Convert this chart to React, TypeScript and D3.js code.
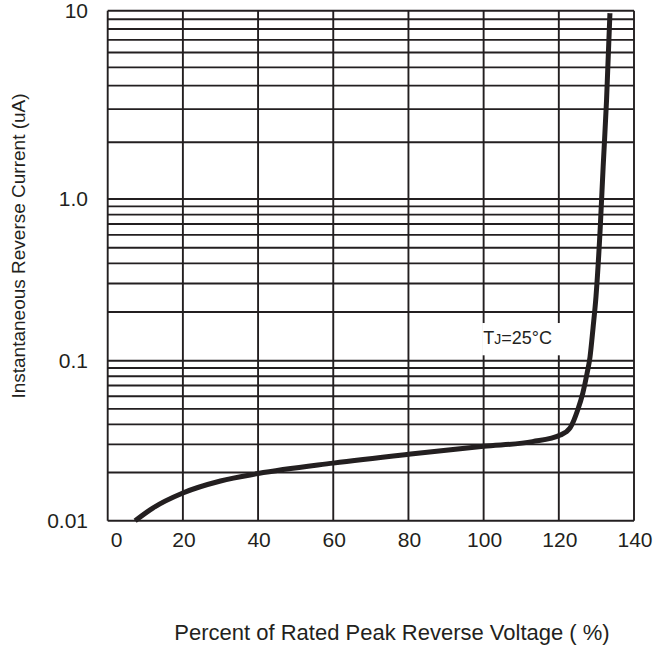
import React, {useEffect, useRef} from 'react'
import * as d3 from 'd3'

// percent of rated peak reverse voltage
const voltagePct = [7.3, 12, 20, 30, 40, 60, 80, 100, 113, 120.4, 123, 125, 126.4, 127.5, 128.3, 129.1, 129.9, 131, 131.8, 132.7, 133.6]
// instantaneous reverse current (uA)
const currentUA = [0.01, 0.012, 0.0149, 0.0177, 0.0197, 0.0229, 0.026, 0.0292, 0.0312, 0.0343, 0.038, 0.049, 0.063, 0.083, 0.1054, 0.159, 0.251, 0.652, 1.49, 3.36, 9.7]

const xTicks = [0, 20, 40, 60, 80, 100, 120, 140]
const yTickValues = [0.01, 0.1, 1, 10]
const yTickLabels = ['0.01', '0.1', '1.0', '10']

const W = 670
const H = 662
const INK = '#231f20'
const FONT = '"Liberation Sans", Arial, sans-serif'

export default function App() {
  const ref = useRef<SVGSVGElement>(null)

  useEffect(() => {
    const svg = d3.select(ref.current)
    svg.selectAll('*').remove()

    const x = d3.scaleLinear().domain([0, 140]).range([107.7, 634])
    // the printed grid has a taller top decade, so map decade by decade
    const y = d3.scaleLog().domain([0.01, 0.1, 1, 10]).range([520.7, 360.7, 199, 10.7])

    const grid = svg.append('g')

    // horizontal log grid: 1..9 in every decade
    const hLines: number[] = []
    for (const d of [0.01, 0.1, 1]) {
      for (let k = 1; k <= 9; k++) hLines.push(d * k)
    }
    hLines.push(10)

    grid.selectAll('line.h')
      .data(hLines)
      .enter()
      .append('line')
      .attr('x1', x(0))
      .attr('x2', x(140))
      .attr('y1', (d) => y(d))
      .attr('y2', (d) => y(d))
      .attr('stroke', INK)
      .attr('stroke-width', 1.9)

    grid.selectAll('line.v')
      .data(xTicks)
      .enter()
      .append('line')
      .attr('x1', (d) => x(d))
      .attr('x2', (d) => x(d))
      .attr('y1', y(10))
      .attr('y2', y(0.01))
      .attr('stroke', INK)
      .attr('stroke-width', 1.9)

    // white box behind the annotation
    svg.append('rect')
      .attr('x', x(99.6))
      .attr('y', y(0.171))
      .attr('width', x(120.6) - x(99.6))
      .attr('height', y(0.108) - y(0.171))
      .attr('fill', '#fff')

    const t = svg.append('text')
      .attr('x', x(99.9))
      .attr('y', y(0.127))
      .attr('font-family', FONT)
      .attr('font-size', 18)
      .attr('fill', INK)
    t.append('tspan').text('T')
    t.append('tspan').attr('font-size', 14).text('J')
    t.append('tspan').text('=25°C')

    // curve
    const line = d3.line<number>()
      .x((d, i) => x(voltagePct[i]))
      .y((d) => y(d))
      .curve(d3.curveMonotoneX)

    svg.append('path')
      .datum(currentUA)
      .attr('d', line)
      .attr('fill', 'none')
      .attr('stroke', INK)
      .attr('stroke-width', 5)
      .attr('stroke-linecap', 'butt')

    // x tick labels
    svg.append('g')
      .selectAll('text')
      .data(xTicks)
      .enter()
      .append('text')
      .attr('x', (d) => x(d) + (d === 0 ? 9 : 1))
      .attr('y', 547)
      .attr('text-anchor', 'middle')
      .attr('font-family', FONT)
      .attr('font-size', 21)
      .attr('fill', INK)
      .text((d) => d)

    // y tick labels
    svg.append('g')
      .selectAll('text')
      .data(yTickValues)
      .enter()
      .append('text')
      .attr('x', 88)
      .attr('y', (d) => y(d) + 7)
      .attr('text-anchor', 'end')
      .attr('font-family', FONT)
      .attr('font-size', 21)
      .attr('fill', INK)
      .text((d, i) => yTickLabels[i])

    svg.append('text')
      .attr('transform', `translate(25, 246) rotate(-90)`)
      .attr('text-anchor', 'middle')
      .attr('font-family', FONT)
      .attr('font-size', 19)
      .attr('fill', INK)
      .text('Instantaneous Reverse Current (uA)')

    svg.append('text')
      .attr('x', 392)
      .attr('y', 640)
      .attr('text-anchor', 'middle')
      .attr('font-family', FONT)
      .attr('font-size', 22)
      .attr('fill', INK)
      .text('Percent of Rated Peak Reverse Voltage ( %)')
  }, [])

  return (
    <svg
      ref={ref}
      width={W}
      height={H}
      style={{position: 'absolute', left: 0, top: 0, background: '#fff'}}
    ></svg>
  )
}
